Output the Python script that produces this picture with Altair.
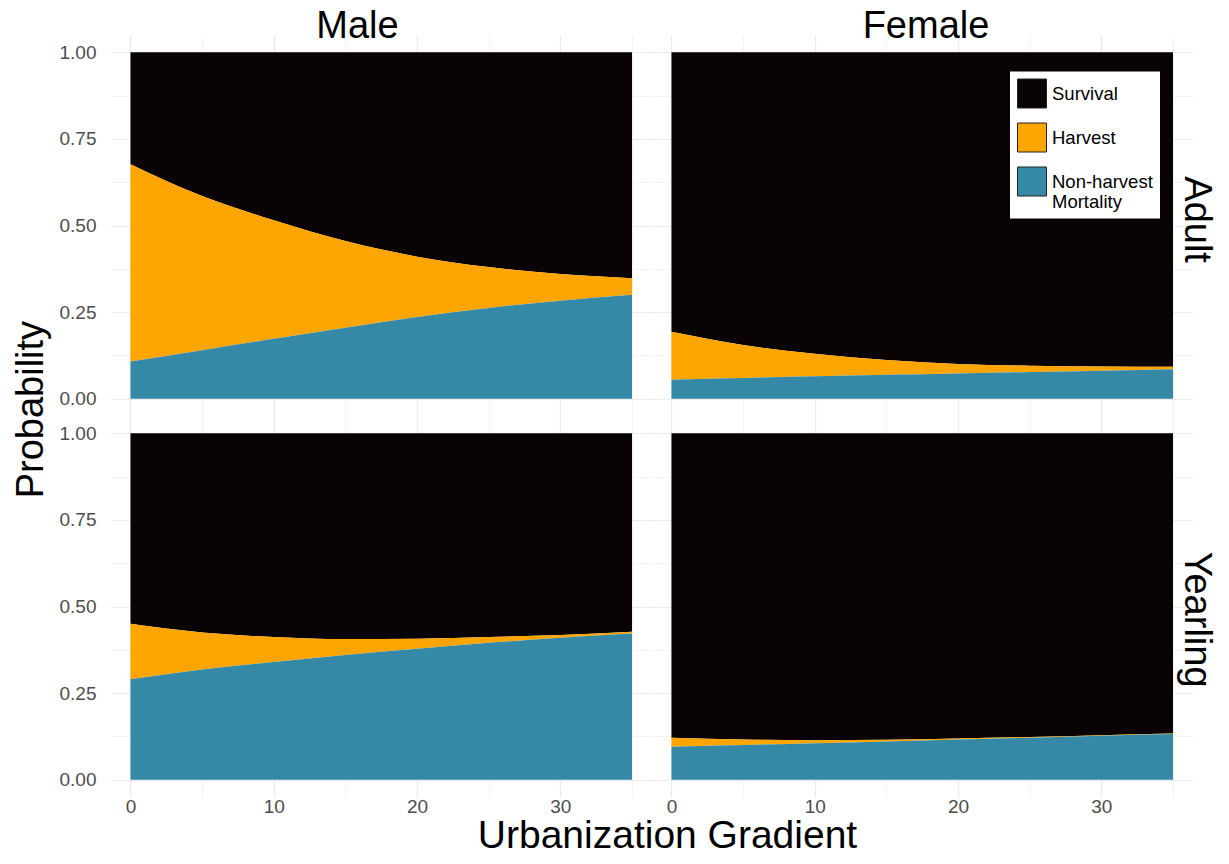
import altair as alt
import pandas as pd

# ---- data ----
x_vals = [0, 5, 10, 15, 20, 25, 30, 35]
sexes = ["Male", "Female"]
ages = ["Adult", "Yearling"]
causes = ["Survival", "Harvest", "Non-harvest Mortality"]

# Male / Adult
male_adult_nonharvest = [0.107, 0.140, 0.173, 0.205, 0.236, 0.262, 0.283, 0.300]
male_adult_harvest    = [0.570, 0.445, 0.342, 0.250, 0.174, 0.118, 0.077, 0.048]
male_adult_survival   = [0.323, 0.415, 0.485, 0.545, 0.590, 0.620, 0.640, 0.652]
# Female / Adult
female_adult_nonharvest = [0.055, 0.060, 0.065, 0.069, 0.073, 0.077, 0.081, 0.085]
female_adult_harvest    = [0.138, 0.095, 0.065, 0.043, 0.027, 0.018, 0.012, 0.007]
female_adult_survival   = [0.807, 0.845, 0.870, 0.888, 0.900, 0.905, 0.907, 0.908]
# Male / Yearling
male_yearling_nonharvest = [0.290, 0.318, 0.340, 0.360, 0.378, 0.395, 0.410, 0.422]
male_yearling_harvest    = [0.160, 0.107, 0.072, 0.046, 0.029, 0.017, 0.008, 0.005]
male_yearling_survival   = [0.550, 0.575, 0.588, 0.594, 0.593, 0.588, 0.582, 0.573]
# Female / Yearling
female_yearling_nonharvest = [0.095, 0.100, 0.105, 0.110, 0.116, 0.121, 0.127, 0.132]
female_yearling_harvest    = [0.026, 0.016, 0.009, 0.005, 0.003, 0.002, 0.0015, 0.001]
female_yearling_survival   = [0.879, 0.884, 0.886, 0.885, 0.881, 0.877, 0.8715, 0.867]

x_title = "Urbanization Gradient"
y_title = "Probability"

series = {
    ("Male", "Adult"): (male_adult_survival, male_adult_harvest, male_adult_nonharvest),
    ("Female", "Adult"): (female_adult_survival, female_adult_harvest, female_adult_nonharvest),
    ("Male", "Yearling"): (male_yearling_survival, male_yearling_harvest, male_yearling_nonharvest),
    ("Female", "Yearling"): (female_yearling_survival, female_yearling_harvest, female_yearling_nonharvest),
}
stack_rank = {"Non-harvest Mortality": 1, "Harvest": 2, "Survival": 3}

rows = []
for (sex, age), vals in series.items():
    for cause, v in zip(causes, vals):
        for xv, p in zip(x_vals, v):
            rows.append({"sex": sex, "age": age, "x": xv, "cause": cause,
                         "p": p, "rank": stack_rank[cause]})
df = pd.DataFrame(rows)

colors = ["#0a0303", "#FFA500", "#3589A6"]
FONT = "Liberation Sans"
GRID = "#ebebeb"
W, H = 540.5, 381

xaxis = alt.Axis(
    values=[0, 5, 10, 15, 20, 25, 30, 35],
    labelExpr="datum.value % 10 == 0 ? datum.label : ''",
    title=None, domain=False, ticks=False, labelPadding=0,
    labelFontSize=19, labelColor="#4d4d4d", labelFont=FONT,
    gridColor=GRID,
    gridWidth={"condition": {"test": "datum.value % 10 == 0", "value": 1.2}, "value": 0.6},
)
yaxis = alt.Axis(
    values=[0, 0.125, 0.25, 0.375, 0.5, 0.625, 0.75, 0.875, 1.0],
    format=".2f",
    labelExpr="datum.value * 100 % 25 == 0 ? datum.label : ''",
    title=None, domain=False, ticks=False, labelPadding=15,
    labelFontSize=19, labelColor="#4d4d4d", labelFont=FONT,
    gridColor=GRID,
    gridWidth={"condition": {"test": "datum.value * 100 % 25 == 0", "value": 1.2}, "value": 0.6},
)

area = alt.Chart().mark_area(interpolate="monotone").encode(
    x=alt.X("x:Q", scale=alt.Scale(domain=[-1.36, 36.36], nice=False, zero=False), axis=xaxis),
    y=alt.Y("p:Q", stack="zero", scale=alt.Scale(domain=[-0.05, 1.05], nice=False, zero=False), axis=yaxis),
    color=alt.Color(
        "cause:N",
        scale=alt.Scale(domain=causes, range=colors),
        legend=alt.Legend(
            title=None, orient="none", legendX=899, legendY=36.5,
            symbolType="square", symbolSize=841, symbolStrokeColor="#222222",
            symbolStrokeWidth=1, symbolOpacity=1,
            labelFontSize=18.5, labelFont=FONT, labelColor="black",
            labelExpr="datum.label == 'Non-harvest Mortality' ? ['Non-harvest', 'Mortality'] : datum.label",
            fillColor="white", padding=7, rowPadding=10, labelOffset=5,
        ),
    ),
    order=alt.Order("rank:Q", sort="ascending"),
)

one_per_cell = "datum.x == 0 && datum.cause == 'Survival'"
txt = dict(font=FONT, color="black", baseline="alphabetic", align="center")


def cell_text(cond, field=None, literal=None, size=38, angle=0, x=0.0, y=0.0):
    c = alt.Chart().transform_filter(one_per_cell + " && " + cond)
    kw = dict(txt, fontSize=size)
    if angle:
        kw["angle"] = angle
    if literal is not None:
        kw["text"] = literal
        return c.mark_text(**kw).encode(x=alt.value(x), y=alt.value(y))
    return c.mark_text(**kw).encode(text=field, x=alt.value(x), y=alt.value(y))


male_lab = cell_text("datum.age == 'Adult' && datum.sex == 'Male'", field="sex:N", x=246.5, y=3)
female_lab = cell_text("datum.age == 'Adult' && datum.sex == 'Female'", field="sex:N", x=274, y=3)
adult_lab = cell_text("datum.age == 'Adult' && datum.sex == 'Female'", field="age:N", angle=90, x=W - 8, y=184.6)
yearling_lab = cell_text("datum.age == 'Yearling' && datum.sex == 'Female'", field="age:N", angle=90, x=W - 8, y=203.6)
ytitle = cell_text("datum.age == 'Adult' && datum.sex == 'Male'", literal=y_title, size=38, angle=270, x=-68.5, y=374.6)
xtitle = cell_text("datum.age == 'Yearling' && datum.sex == 'Male'", literal=x_title, size=39, x=556.5, y=H + 50.8)

layered = alt.layer(area, male_lab, female_lab, adult_lab, yearling_lab, ytitle, xtitle,
                    data=df).properties(width=W, height=H)

chart = layered.facet(
    column=alt.Column("sex:N", sort=sexes, header=alt.Header(title=None, labels=False)),
    row=alt.Row("age:N", sort=ages, header=alt.Header(title=None, labels=False)),
    spacing={"row": 0, "column": 0},
).properties(bounds="flush", padding={"left": 4, "top": 0, "right": 5, "bottom": 0}) \
 .configure_view(stroke=None)

chart.save("out.html", embed_options={"renderer": "svg", "actions": False})
